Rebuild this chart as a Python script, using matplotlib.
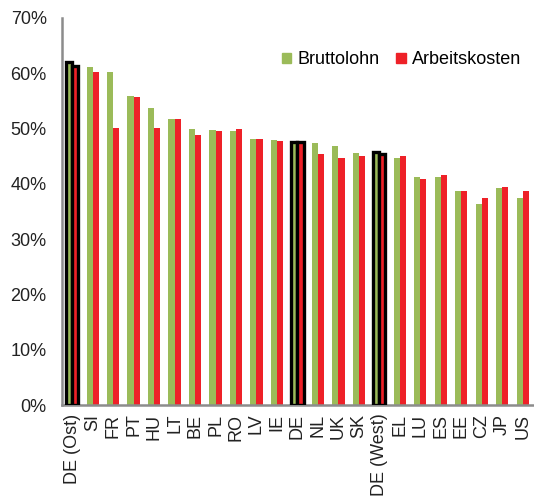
import numpy as np
import matplotlib
matplotlib.use('Agg')
import matplotlib.pyplot as plt
from matplotlib.ticker import PercentFormatter, MultipleLocator
from matplotlib.patches import Patch

countries = ['DE (Ost)', 'SI', 'FR', 'PT', 'HU', 'LT', 'BE', 'PL', 'RO', 'LV', 'IE', 'DE',
             'NL', 'UK', 'SK', 'DE (West)', 'EL', 'LU', 'ES', 'EE', 'CZ', 'JP', 'US']
brutto = [62.1, 61.2, 60.2, 55.9, 53.8, 51.7, 50.0, 49.7, 49.6, 48.2, 47.9, 47.6,
          47.4, 46.9, 45.5, 45.7, 44.7, 41.3, 41.2, 38.8, 36.4, 39.3, 37.4]
arbeit = [61.4, 60.2, 50.1, 55.8, 50.1, 51.7, 48.8, 49.5, 50.0, 48.2, 47.7, 47.6,
          45.4, 44.6, 45.0, 45.4, 45.0, 40.8, 41.7, 38.8, 37.5, 39.5, 38.8]
highlight = ['DE (Ost)', 'DE', 'DE (West)']

green = '#9BBB59'
red = '#EE2128'
grey = '#8C8C8C'
txt = '#222222'

plt.rcParams['font.family'] = ['Liberation Sans', 'DejaVu Sans']

fig = plt.figure(figsize=(5.34, 4.99), dpi=100)
ax = fig.add_axes([0.116, 0.188, 0.882, 0.776])

x = np.arange(len(countries))
w = 0.3
for i, c in enumerate(countries):
    hl = c in highlight
    ec = 'black' if hl else 'none'
    lw = 2.4 if hl else 0
    z = 3 if hl else 2
    ax.bar(x[i] - w / 2, brutto[i] / 100, width=w, color=green, edgecolor=ec, linewidth=lw, zorder=z)
    ax.bar(x[i] + w / 2, arbeit[i] / 100, width=w, color=red, edgecolor=ec, linewidth=lw, zorder=z)

ax.set_xlim(-0.5, len(countries) - 0.5)
ax.set_ylim(0, 0.7)
ax.yaxis.set_major_locator(MultipleLocator(0.1))
ax.yaxis.set_major_formatter(PercentFormatter(1.0, decimals=0))
ax.set_xticks(x)
ax.set_xticklabels(countries, rotation=90, fontsize=13, color=txt)
ax.tick_params(axis='y', labelsize=13, labelcolor=txt, length=0, pad=11)
ax.tick_params(axis='x', length=0, pad=6)

for s in ['top', 'right']:
    ax.spines[s].set_visible(False)
for s in ['left', 'bottom']:
    ax.spines[s].set_color(grey)
    ax.spines[s].set_linewidth(1.8)

handles = [Patch(color=green, label='Bruttolohn'), Patch(color=red, label='Arbeitskosten')]
fig.legend(handles=handles, loc='center', bbox_to_anchor=(0.752, 0.88), ncol=2, frameon=False,
           fontsize=13, handlelength=0.55, handleheight=0.55, handletextpad=0.35, columnspacing=0.9)

fig.savefig('out.png', dpi=100)
